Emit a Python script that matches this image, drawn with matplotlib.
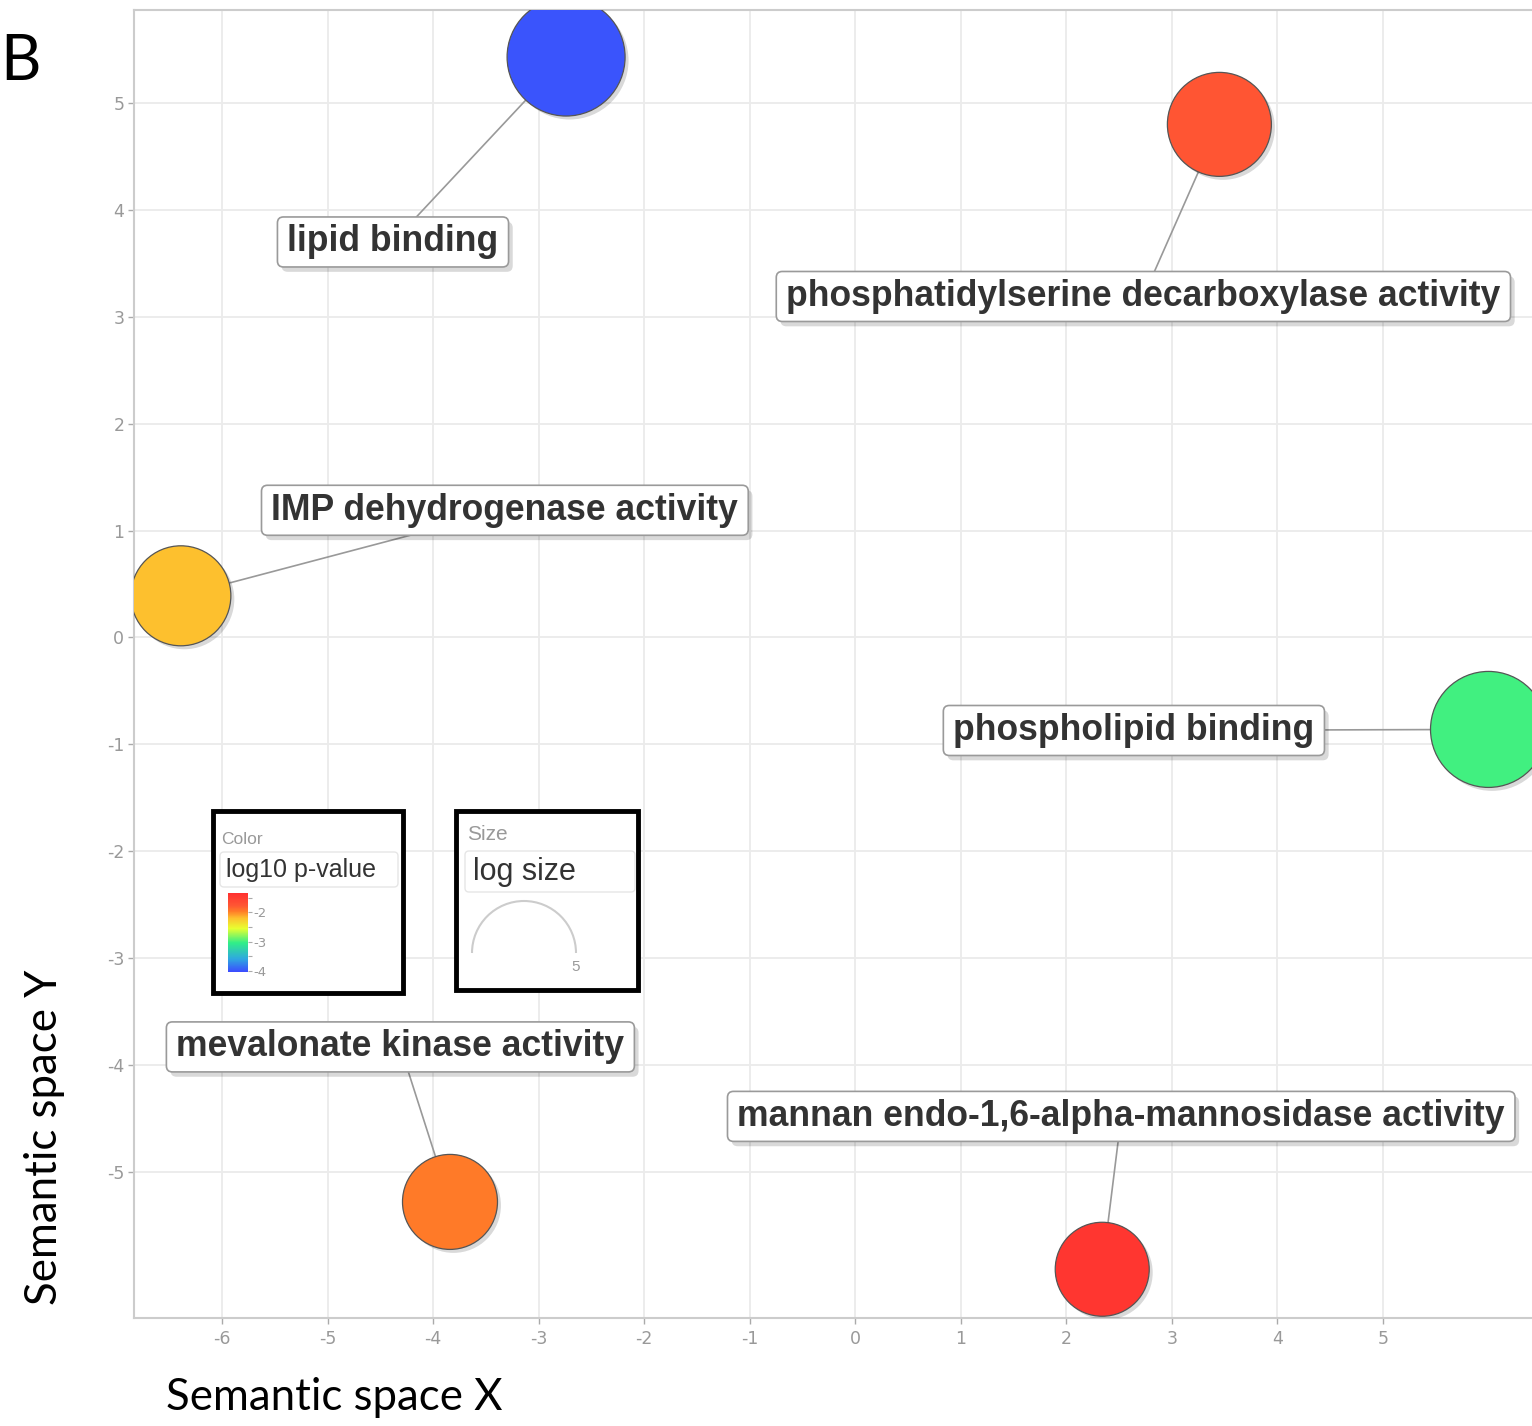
import matplotlib
matplotlib.use("Agg")
import matplotlib.pyplot as plt
import numpy as np
from matplotlib.colors import LinearSegmentedColormap, Normalize
from matplotlib.patches import FancyBboxPatch, Rectangle, Arc
from matplotlib.transforms import IdentityTransform
import matplotlib.patheffects as pe
import matplotlib.cm as cm

# ---------------- data ----------------
terms = ["lipid binding", "phosphatidylserine decarboxylase activity",
         "IMP dehydrogenase activity", "phospholipid binding",
         "mevalonate kinase activity", "mannan endo-1,6-alpha-mannosidase activity"]
plot_x = [-2.74, 3.45, -6.39, 6.00, -3.84, 2.34]
plot_y = [5.43, 4.80, 0.39, -0.86, -5.28, -5.91]
log10_pvalue = [-4.00, -1.75, -2.20, -3.00, -1.95, -1.40]
log_size = [3.90, 3.20, 3.00, 3.80, 2.75, 2.70]
label_x = [-4.38, 2.73, -3.32, 2.64, -4.31, 2.52]
label_y = [3.70, 3.19, 1.19, -0.87, -3.83, -4.48]
x_ticks = [-6, -5, -4, -3, -2, -1, 0, 1, 2, 3, 4, 5]
y_ticks = [-5, -4, -3, -2, -1, 0, 1, 2, 3, 4, 5]

# colour scale
cb_vals = [-4.05, -3.6, -3.05, -2.55, -2.2, -1.95, -1.75, -1.33]
cb_cols = ['#3B4BFF', '#2FA8E0', '#30EE88', '#E8FF30', '#FDC22E', '#FF7A28', '#FF5533', '#FF3030']
vmin, vmax = cb_vals[0], cb_vals[-1]
cmap = LinearSegmentedColormap.from_list(
    "revigo", [((v - vmin) / (vmax - vmin), c) for v, c in zip(cb_vals, cb_cols)])
norm = Normalize(vmin=vmin, vmax=vmax)

W, H = 1532, 1426
DPI = 100
fig = plt.figure(figsize=(W / DPI, H / DPI), dpi=DPI)
fig.patch.set_facecolor('white')

L, R, T, B = 134, 1532, 10, 1318
ax = fig.add_axes([L / W, (H - B) / H, (R - L) / W, (B - T) / H])
ax.set_xlim(-6.834, 6.412)
ax.set_ylim(-6.366, 5.870)
ax.set_xticks(x_ticks)
ax.set_yticks(y_ticks)
ax.set_xticklabels([str(v) for v in x_ticks])
ax.set_yticklabels([str(v) for v in y_ticks])
ax.grid(True, color='#ebebeb', linewidth=1.3)
ax.set_axisbelow(True)
for s in ['left', 'top', 'bottom']:
    ax.spines[s].set_color('#cccccc')
    ax.spines[s].set_linewidth(1.5)
ax.spines['right'].set_visible(False)
ax.tick_params(axis='both', colors='#aaaaaa', labelcolor='#999999', labelsize=12.5,
               length=4, width=1)
ax.tick_params(axis='x', pad=5)
ax.tick_params(axis='y', pad=3)
for lab in ax.get_xticklabels() + ax.get_yticklabels():
    lab.set_family('Liberation Sans Narrow')

# bubbles
diam_px = 40 + 20 * np.array(log_size)
sizes = (diam_px * 72.0 / DPI) ** 2
colors = cmap(norm(np.array(log10_pvalue)))
sc = ax.scatter(plot_x, plot_y, s=sizes, c=colors, edgecolors='#555555', linewidths=0.9, zorder=3)
sc.set_path_effects([pe.SimplePatchShadow(offset=(2.5, -2.5), shadow_rgbFace='#000000', alpha=0.15),
                     pe.Normal()])

# segments
for i in range(len(terms)):
    ax.plot([label_x[i], plot_x[i]], [label_y[i], plot_y[i]], color='#999999', lw=1.2, zorder=2)

# labels
texts = []
for i, t in enumerate(terms):
    tx = ax.text(label_x[i], label_y[i], t, ha='center', va='center', fontsize=25.6,
                 fontweight='bold', family='Liberation Sans', color='#333333', zorder=6)
    texts.append(tx)

fig.canvas.draw()
rend = fig.canvas.get_renderer()
for tx in texts:
    bb = tx.get_window_extent(rend)
    cx = (bb.x0 + bb.x1) / 2
    cy = (bb.y0 + bb.y1) / 2
    w = bb.width + 20
    h = 50
    p = FancyBboxPatch((cx - w / 2, cy - h / 2), w, h,
                       boxstyle='round,pad=0,rounding_size=6',
                       facecolor='white', edgecolor='#9a9a9a', linewidth=1.2,
                       transform=IdentityTransform(), zorder=5, clip_on=False)
    p.set_path_effects([pe.SimplePatchShadow(offset=(3, -3.5), shadow_rgbFace='#000000', alpha=0.15),
                        pe.Normal()])
    ax.add_artist(p)

# ---------------- overlay (legends, outer labels) ----------------
ov = fig.add_axes([0, 0, 1, 1])
ov.set_xlim(0, W)
ov.set_ylim(H, 0)
ov.axis('off')

ov.text(20, 62, "B", fontsize=45, family='Lato', ha='center', va='center', color='black')
ov.text(334, 1398, "Semantic space X", fontsize=31.5, family='Lato', ha='center', va='center')
ov.text(45, 1137, "Semantic space Y", fontsize=31.5, family='Lato', ha='center', va='center',
        rotation=90)

# colour legend
ov.add_patch(Rectangle((213, 811), 190, 182, facecolor='white', edgecolor='black', lw=3.5, zorder=2))
ov.add_patch(FancyBboxPatch((220, 852), 178, 35, boxstyle='round,pad=0,rounding_size=4',
                            facecolor='white', edgecolor='#e6e6e6', lw=1, zorder=3))
ov.text(221, 839, "Color", fontsize=12.5, color='#999999', family='Liberation Sans',
        ha='left', va='center', zorder=4)
ov.text(226, 870, "log10 p-value", fontsize=18, color='#333333', family='Liberation Sans',
        ha='left', va='center', zorder=4)

# size legend
ov.add_patch(Rectangle((456, 811), 182, 179, facecolor='white', edgecolor='black', lw=3.5, zorder=2))
ov.add_patch(FancyBboxPatch((465, 851), 170, 41, boxstyle='round,pad=0,rounding_size=4',
                            facecolor='white', edgecolor='#e6e6e6', lw=1, zorder=3))
ov.text(467, 835, "Size", fontsize=15, color='#999999', family='Liberation Sans',
        ha='left', va='center', zorder=4)
ov.text(473, 872, "log size", fontsize=22, color='#333333', family='Liberation Sans',
        ha='left', va='center', zorder=4)
ov.add_patch(Arc((524, 953), 104, 104, theta1=180, theta2=360, color='#cccccc', lw=1.5, zorder=4))
ov.text(576, 967, "5", fontsize=11, color='#999999', family='Liberation Sans',
        ha='center', va='center', zorder=4)

# colourbar
cax = fig.add_axes([228 / W, (H - 972) / H, 20 / W, 79 / H])
cbar = fig.colorbar(cm.ScalarMappable(norm=norm, cmap=cmap), cax=cax,
                    ticks=[-4, -3.5, -3, -2.5, -2, -1.5])
cbar.outline.set_visible(False)
cbar.ax.set_yticklabels(['-4', '', '-3', '', '-2', ''])
cbar.ax.tick_params(length=3, width=0.8, colors='#aaaaaa', labelcolor='#999999',
                    labelsize=9.5, pad=1)

fig.savefig("out.png", dpi=DPI, facecolor='white')
